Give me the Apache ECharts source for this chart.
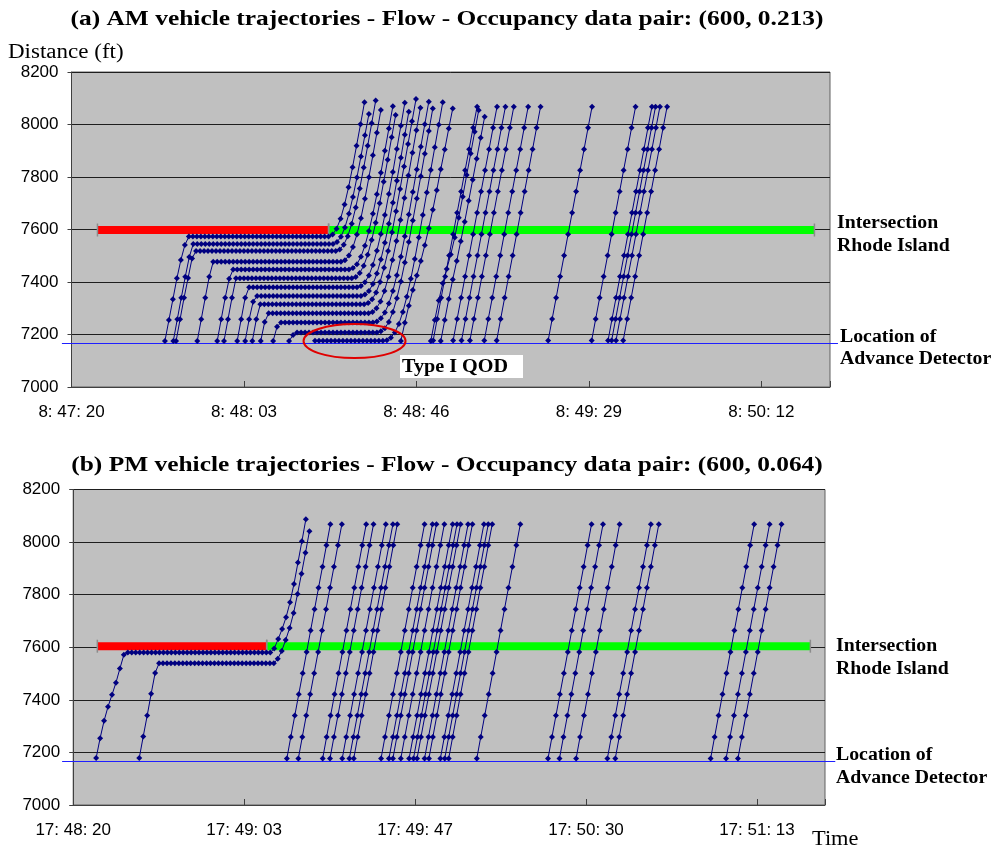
<!DOCTYPE html>
<html>
<head>
<meta charset="utf-8">
<script src="https://cdn.jsdelivr.net/npm/echarts@6/dist/echarts.min.js"></script>
<style>
  html, body { margin: 0; background: #fff; }
  #main { width: 993px; height: 847px; }
</style>
</head>
<body>
<div id="main"></div>
<script>
// time axis: seconds after the first tick, ticks every 0.0005 day (43.2 s)
const TICK_STEP = 43.2;
const AM_TICKS = ['8: 47: 20', '8: 48: 03', '8: 48: 46', '8: 49: 29', '8: 50: 12'];
const PM_TICKS = ['17: 48: 20', '17: 49: 03', '17: 49: 47', '17: 50: 30', '17: 51: 13'];

// positions (ft) of a free-flowing vehicle, one sample per second from the detector
const STATIONS = [7177, 7259, 7340, 7421, 7501, 7582, 7664, 7745, 7826, 7906, 7988, 8068];

// ---- AM ----
const AM_FREE_T0 = [90.6, 95.6, 97.7, 99.8, 103.4, 106.5, 119.4, 130.3, 134.4, 135.3, 136.4, 138.2];
const AM_SLOW_T0 = [82.5, 90.0, 92.5];
const AM_SLOW_POS = [
  [7175, 7245, 7310, 7370, 7425, 7480, 7540, 7605, 7675, 7750, 7830, 7905, 7985, 8061],
  [7175, 7255, 7330, 7395, 7450, 7505, 7570, 7645, 7725, 7808, 7890, 7972, 8054],
  [7175, 7255, 7335, 7410, 7480, 7555, 7630, 7710, 7790, 7870, 7950, 8030]
];
// queued vehicles: first sample time, approach samples, stop position, seconds stopped, departure samples
const AM_Q_T0 = [23.4, 25.5, 26.2, 31.5, 36.5, 38.2, 41.5, 43.5, 45.3, 47.4, 50.5, 54.5, 61.0];
const AM_Q_APPROACH = [
  [7175, 7255, 7334, 7414, 7484, 7541],
  [7175, 7258, 7340, 7420, 7495],
  [7175, 7258, 7340, 7415, 7490],
  [7175, 7258, 7340, 7420],
  [7175, 7258, 7340, 7412],
  [7175, 7258, 7340],
  [7175, 7258, 7340],
  [7175, 7258, 7325],
  [7175, 7258],
  [7175, 7248],
  [7175, 7230],
  [7175, 7198],
  []
];
const AM_Q_STOP = [7573, 7545, 7518, 7477, 7448, 7414, 7380, 7347, 7315, 7281, 7246, 7208, 7176];
const AM_Q_HOLD = [36, 36, 36, 33, 30, 30, 28, 27, 27, 26, 24, 21, 18];
const AM_Q_DEPART = [
  [7581, 7603, 7641, 7695, 7761, 7837, 7919, 8001, 8085],
  [7552, 7572, 7608, 7660, 7724, 7798, 7878, 7959, 8040],
  [7524, 7542, 7574, 7622, 7684, 7756, 7836, 7919, 8005, 8091],
  [7483, 7501, 7533, 7581, 7643, 7717, 7799, 7883, 7969, 8055],
  [7453, 7468, 7496, 7538, 7594, 7660, 7734, 7816, 7900, 7985, 8070],
  [7419, 7434, 7462, 7504, 7560, 7626, 7700, 7782, 7866, 7951, 8036],
  [7385, 7399, 7425, 7465, 7519, 7583, 7655, 7735, 7819, 7907, 7995, 8083],
  [7352, 7366, 7392, 7432, 7486, 7550, 7622, 7702, 7786, 7873, 7961, 8049],
  [7320, 7334, 7360, 7400, 7454, 7518, 7590, 7670, 7754, 7840, 7926, 8012, 8097],
  [7286, 7300, 7326, 7366, 7420, 7484, 7556, 7636, 7720, 7806, 7892, 7978, 8064],
  [7250, 7262, 7284, 7318, 7366, 7426, 7496, 7574, 7657, 7743, 7829, 7915, 8001, 8087],
  [7212, 7224, 7248, 7286, 7338, 7402, 7474, 7552, 7634, 7718, 7803, 7889, 7975, 8061],
  [7178, 7188, 7208, 7240, 7286, 7344, 7412, 7488, 7570, 7655, 7741, 7827, 7913, 7999, 8085]
];
const AM_RED = [6.5, 64.4];
const AM_GREEN = [64.4, 186.1];
const AM_BAR_Y = 7598;
const AM_DETECTOR = 7166;
const AM_DETECTOR_SPAN = [-2.4, 192.0];

// ---- PM ----
const PM_FREE_T0 = [54.0, 56.9, 63.05, 64.9, 68.0, 69.8, 70.9, 77.8, 79.8, 80.8, 82.8, 84.9, 86.0, 86.9,
  88.8, 89.9, 92.8, 93.9, 94.9, 102.0, 120.0, 122.9, 127.1, 135.0, 137.0, 161.1, 165.0, 168.0];
const PM_Q_T0 = [5.8, 16.7];
const PM_Q_APPROACH = [
  [7179, 7254, 7320, 7374, 7419, 7465, 7519, 7571],
  [7179, 7261, 7340, 7423, 7502]
];
const PM_Q_STOP = [7580, 7539];
const PM_Q_HOLD = [37, 30];
const PM_Q_DEPART = [
  [7595, 7631, 7669, 7714, 7771, 7841, 7922, 8003, 8087],
  [7556, 7586, 7628, 7673, 7730, 7803, 7880, 7959, 8041]
];
const PM_RED = [6.1, 48.9];
const PM_GREEN = [48.9, 186.3];
const PM_BAR_Y = 7604;
const PM_DETECTOR = 7168;
const PM_DETECTOR_SPAN = [-2.8, 192.6];

// samples are one second apart
function toPoints(t0, pos) {
  return pos.map((d, k) => [+(t0 + k).toFixed(2), d]);
}
function queuedPositions(approach, stop, hold, depart) {
  return approach.concat(new Array(hold).fill(stop), depart);
}

const NAVY = '#000080';
const series = [];

function addVehicle(pts, gi) {
  series.push({
    type: 'line',
    xAxisIndex: gi,
    yAxisIndex: gi,
    data: pts,
    symbol: 'diamond',
    symbolSize: 6,
    showAllSymbol: true,
    lineStyle: { color: NAVY, width: 1 },
    itemStyle: { color: NAVY },
    z: 12,
    silent: true
  });
}

function addChart(gi, freeT0, qT0, qApp, qStop, qHold, qDep, red, green, barY) {
  series.push({
    type: 'line', xAxisIndex: gi, yAxisIndex: gi, silent: true, z: 11,
    data: [[red[0], barY], [red[1], barY]],
    symbol: 'rect', symbolSize: [1.5, 13], itemStyle: { color: '#8c8c8c' },
    lineStyle: { color: '#ff0000', width: 8, cap: 'butt' }
  });
  series.push({
    type: 'line', xAxisIndex: gi, yAxisIndex: gi, silent: true, z: 11,
    data: [[green[0], barY], [green[1], barY]],
    symbol: 'rect', symbolSize: [1.5, 13], itemStyle: { color: '#8c8c8c' },
    lineStyle: { color: '#00ff00', width: 8, cap: 'butt' }
  });
  qT0.forEach((t0, i) => addVehicle(toPoints(t0, queuedPositions(qApp[i], qStop[i], qHold[i], qDep[i])), gi));
  freeT0.forEach(t0 => addVehicle(toPoints(t0, STATIONS), gi));
}

addChart(0, AM_FREE_T0, AM_Q_T0, AM_Q_APPROACH, AM_Q_STOP, AM_Q_HOLD, AM_Q_DEPART, AM_RED, AM_GREEN, AM_BAR_Y);
AM_SLOW_T0.forEach((t0, i) => addVehicle(toPoints(t0, AM_SLOW_POS[i]), 0));
addChart(1, PM_FREE_T0, PM_Q_T0, PM_Q_APPROACH, PM_Q_STOP, PM_Q_HOLD, PM_Q_DEPART, PM_RED, PM_GREEN, PM_BAR_Y);

const SANS = '"Liberation Sans", Arial, sans-serif';
function xAxisFor(gi, labels) {
  return {
    type: 'value', gridIndex: gi, min: 0, max: 190, interval: TICK_STEP,
    axisLine: { lineStyle: { color: '#404040', width: 1 } },
    axisTick: { inside: true, length: 6, lineStyle: { color: '#404040' } },
    splitLine: { show: false },
    axisLabel: {
      color: '#000', fontSize: 17, fontFamily: SANS, margin: 17,
      formatter: v => {
        const i = Math.round(v / TICK_STEP);
        return Math.abs(v - i * TICK_STEP) < 0.01 && labels[i] ? labels[i] : '';
      }
    }
  };
}
function yAxisFor(gi) {
  return {
    type: 'value', gridIndex: gi, min: 7000, max: 8200, interval: 200,
    axisLine: { show: true, lineStyle: { color: '#404040', width: 1 } },
    axisTick: { show: true, length: 4, lineStyle: { color: '#404040' } },
    splitLine: { show: true, lineStyle: { color: '#1e1e1e', width: 1 } },
    axisLabel: { color: '#000', fontSize: 17, fontFamily: SANS, margin: 13, formatter: v => String(v) }
  };
}

const SERIF = '"Liberation Serif", "Times New Roman", serif';
// reference lettering is drawn a little wider than the font, hence scaleX
function txt(text, x, y, font, align, sx) {
  return {
    type: 'text', silent: true, z: 20,
    x, y, scaleX: sx || 1,
    style: { text, x: 0, y: 0, font, fill: '#000', textAlign: align || 'left', align: align || 'left',
      textVerticalAlign: 'middle', verticalAlign: 'middle' }
  };
}
const sideFont = 'bold 18px ' + SERIF;

const chart = echarts.init(document.getElementById('main'), null, { renderer: 'canvas' });
chart.setOption({
  animation: false,
  backgroundColor: '#fff',
  grid: [
    { left: 71.5, top: 72, width: 758.5, height: 315, show: true, backgroundColor: '#c0c0c0', borderColor: '#606060', borderWidth: 1 },
    { left: 73.2, top: 489.5, width: 751.8, height: 315.5, show: true, backgroundColor: '#c0c0c0', borderColor: '#606060', borderWidth: 1 }
  ],
  xAxis: [xAxisFor(0, AM_TICKS), xAxisFor(1, PM_TICKS)],
  yAxis: [yAxisFor(0), yAxisFor(1)],
  series: series
});

// detector line runs a little past both sides of each plot
function detectorLine(gi, level, span) {
  const a = chart.convertToPixel({ gridIndex: gi }, [span[0], level]);
  const b = chart.convertToPixel({ gridIndex: gi }, [span[1], level]);
  return {
    type: 'line', silent: true, z: 10,
    shape: { x1: a[0], y1: Math.round(a[1]) + 0.5, x2: b[0], y2: Math.round(b[1]) + 0.5 },
    style: { stroke: '#1f1fff', lineWidth: 1 }
  };
}

const centre = chart.convertToPixel({ gridIndex: 0 }, [70.9, 7175]);
chart.setOption({
  graphic: [
    detectorLine(0, AM_DETECTOR, AM_DETECTOR_SPAN),
    detectorLine(1, PM_DETECTOR, PM_DETECTOR_SPAN),
    txt('(a) AM vehicle trajectories - Flow - Occupancy data pair: (600, 0.213)', 447, 20, 'bold 21px ' + SERIF, 'center', 1.21),
    txt('(b) PM vehicle trajectories - Flow - Occupancy data pair: (600, 0.064)', 447, 466, 'bold 21px ' + SERIF, 'center', 1.21),
    txt('Distance (ft)', 8, 53, '20px ' + SERIF, 'left', 1.15),
    txt('Time', 812, 840, '20px ' + SERIF, 'left', 1.12),
    txt('Intersection', 837, 223, sideFont, 'left', 1.1),
    txt('Rhode Island', 837, 246, sideFont, 'left', 1.1),
    txt('Location of', 840, 337, sideFont, 'left', 1.1),
    txt('Advance Detector', 840, 359, sideFont, 'left', 1.1),
    txt('Intersection', 836, 646, sideFont, 'left', 1.1),
    txt('Rhode Island', 836, 669, sideFont, 'left', 1.1),
    txt('Location of', 836, 755, sideFont, 'left', 1.1),
    txt('Advance Detector', 836, 778, sideFont, 'left', 1.1),
    {
      type: 'ellipse', silent: true, z: 15,
      shape: { cx: centre[0], cy: centre[1], rx: 51, ry: 17 },
      style: { fill: 'none', stroke: '#e00000', lineWidth: 2 }
    },
    {
      type: 'rect', silent: true, z: 16,
      shape: { x: 400, y: 355, width: 123, height: 23 },
      style: { fill: '#fff' }
    },
    txt('Type I QOD', 402, 367, 'bold 18px ' + SERIF, 'left', 1.12)
  ]
});
</script>
</body>
</html>
